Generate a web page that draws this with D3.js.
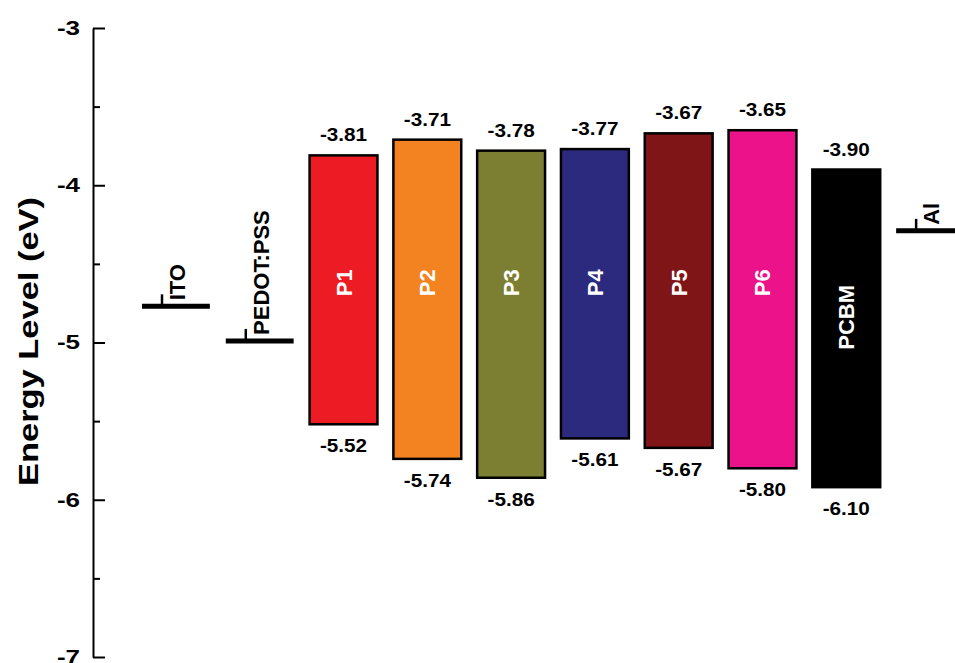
<!DOCTYPE html>
<html>
<head>
<meta charset="utf-8">
<script src="https://cdn.jsdelivr.net/npm/d3@7"></script>
<style>
  body { margin: 0; background: #fff; }
  text { font-family: "Liberation Sans", Arial, sans-serif; font-weight: bold; }
</style>
</head>
<body>
<div id="chart"></div>
<script>
// layers across the device, left to right
const layers = ["ITO", "PEDOT:PSS", "P1", "P2", "P3", "P4", "P5", "P6", "PCBM", "Al"];

// donor polymers + acceptor: LUMO / HOMO as drawn (eV) and as labelled
const materials = ["P1", "P2", "P3", "P4", "P5", "P6", "PCBM"];
const lumo = [-3.81, -3.71, -3.78, -3.77, -3.67, -3.65, -3.90];
const homo = [-5.52, -5.74, -5.86, -5.61, -5.67, -5.80, -5.92];
const lumoText = ["-3.81", "-3.71", "-3.78", "-3.77", "-3.67", "-3.65", "-3.90"];
const homoText = ["-5.52", "-5.74", "-5.86", "-5.61", "-5.67", "-5.80", "-6.10"];
const barColors = ["#ed1c24", "#f38220", "#7c7f31", "#2b2a7f", "#7f1517", "#ec128a", "#000000"];

// electrodes / buffer layer work function (eV)
const electrodes = ["ITO", "PEDOT:PSS", "Al"];
const workFunction = [-4.77, -4.99, -4.29];

const majorTicks = [-3, -4, -5, -6, -7];
const minorTicks = [-3.5, -4.5, -5.5, -6.5];

let width = 955, height = 663;

let svg = d3.select("#chart")
    .append("svg")
    .attr("width", width)
    .attr("height", height);

let x = d3.scaleBand()
    .domain(layers)
    .range([142, 964])
    .paddingInner(0.19)
    .paddingOuter(0);

let y = d3.scaleLinear()
    .domain([-3, -7])
    .range([28, 657]);

// y axis, ticks pointing inward
let axis = svg.append("g")
    .attr("transform", "translate(93,0)")
    .call(d3.axisLeft(y)
        .tickValues(majorTicks)
        .tickSizeInner(-12)
        .tickSizeOuter(0)
        .tickFormat(d => String(d)));

axis.select(".domain").attr("stroke-width", 2);
axis.selectAll(".tick line").attr("stroke-width", 2);
axis.selectAll(".tick text")
    .attr("x", null)
    .attr("transform", "translate(-13,0) scale(1.3,1)")
    .attr("font-size", 20)
    .attr("fill", "#000")
    .attr("font-family", "'Liberation Sans', Arial, sans-serif")
    .attr("font-weight", "bold");

let minor = svg.append("g")
    .attr("transform", "translate(93,0)")
    .call(d3.axisLeft(y)
        .tickValues(minorTicks)
        .tickSizeInner(-7)
        .tickSizeOuter(0)
        .tickFormat(""));
minor.select(".domain").remove();
minor.selectAll(".tick line").attr("stroke-width", 2);

svg.append("text")
    .attr("transform", "translate(38," + (y(-5) - 1) + ") rotate(-90) scale(1.23,1)")
    .attr("text-anchor", "middle")
    .attr("font-size", 28)
    .text("Energy Level (eV)");

// energy bars
let bars = materials.map((m, i) => ({
    name: m, lumo: lumo[i], homo: homo[i],
    top: lumoText[i], bottom: homoText[i], color: barColors[i]
}));

let bar = svg.selectAll(".bar")
    .data(bars)
    .enter().append("g").attr("class", "bar");

bar.append("rect")
    .attr("x", d => x(d.name))
    .attr("y", d => y(d.lumo))
    .attr("width", x.bandwidth())
    .attr("height", d => y(d.homo) - y(d.lumo))
    .attr("fill", d => d.color)
    .attr("stroke", "#000")
    .attr("stroke-width", 2.5);

bar.append("text")
    .attr("transform", d => "translate(" + (x(d.name) + x.bandwidth() / 2) + "," + (y(d.lumo) - 14) + ") scale(1.15,1)")
    .attr("text-anchor", "middle")
    .attr("font-size", 18)
    .text(d => d.top);

bar.append("text")
    .attr("transform", d => "translate(" + (x(d.name) + x.bandwidth() / 2) + "," + (y(d.homo) + 28) + ") scale(1.15,1)")
    .attr("text-anchor", "middle")
    .attr("font-size", 18)
    .text(d => d.bottom);

bar.append("text")
    .attr("transform", d => "translate(" + (x(d.name) + x.bandwidth() / 2 + 8) + "," + y(d.name === "PCBM" ? -4.84 : -4.62) + ") rotate(-90)")
    .attr("text-anchor", "middle")
    .attr("font-size", 22)
    .attr("fill", "#fff")
    .text(d => d.name);

// electrode levels
let levels = electrodes.map((e, i) => ({name: e, wf: workFunction[i]}));

let level = svg.selectAll(".level")
    .data(levels)
    .enter().append("g").attr("class", "level");

level.append("line")
    .attr("x1", d => x(d.name))
    .attr("x2", d => x(d.name) + x.bandwidth())
    .attr("y1", d => y(d.wf))
    .attr("y2", d => y(d.wf))
    .attr("stroke", "#000")
    .attr("stroke-width", 5);

level.append("line")
    .attr("x1", d => x(d.name) + 20)
    .attr("x2", d => x(d.name) + 20)
    .attr("y1", d => y(d.wf))
    .attr("y2", d => y(d.wf) - 12)
    .attr("stroke", "#000")
    .attr("stroke-width", 2.5);

level.append("text")
    .attr("transform", d => "translate(" + (x(d.name) + 43) + "," + (y(d.wf) - 6) + ") rotate(-90)")
    .attr("font-size", 22)
    .text(d => d.name);
</script>
</body>
</html>
